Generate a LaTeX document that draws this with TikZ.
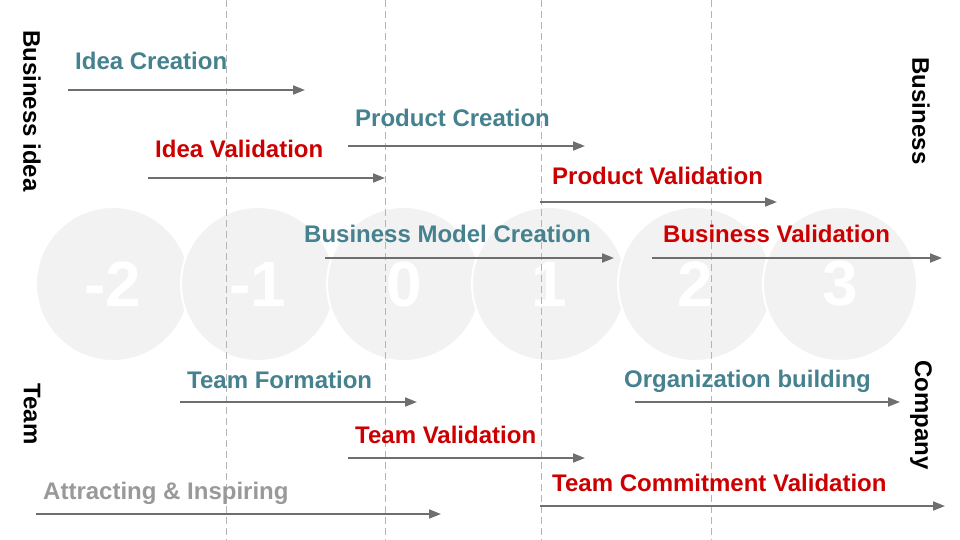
\documentclass[tikz,border=0pt]{standalone}
\usepackage{fontspec}
\setmainfont{Liberation Sans}
\usetikzlibrary{arrows.meta}
\definecolor{teal}{HTML}{45818E}
\definecolor{dred}{HTML}{CC0000}
\definecolor{ltxt}{HTML}{999999}
\definecolor{arr}{HTML}{6E6E6E}
\definecolor{circ}{HTML}{F2F2F2}
\definecolor{dash}{HTML}{B4B4B4}
\tikzset{
  phase/.style={circle, fill=circ, draw=white, line width=2pt, minimum size=154pt, inner sep=0pt,
    text=white, font=\fontsize{64}{70}\selectfont\bfseries},
  grid/.style={draw=dash, line width=0.9pt, dash pattern=on 7pt off 4pt},
  flow/.style={draw=arr, line width=1.8pt, -{Triangle[length=12pt,width=9pt]}},
  lbl/.style={anchor=base west, inner sep=0pt, font=\fontsize{24}{28}\selectfont\bfseries},
  side/.style={rotate=-90, inner sep=0pt, font=\fontsize{24}{28}\selectfont\bfseries, text=black},
}
\begin{document}
\begin{tikzpicture}[x=1pt,y=-1pt]
\useasboundingbox (0,0) rectangle (960,540);
% phases
\node[phase] (pm2) at (113,284) {-2};
\node[phase] (pm1) at (258,284) {-1};
\node[phase] (p0) at (404,284) {0};
\node[phase] (p1) at (549,284) {1};
\node[phase] (p2) at (695,284) {2};
\node[phase] (p3) at (840,284) {3};
% dashed grid
\foreach \x/\n in {226/a,385/b,541/c,711/d}{
  \coordinate (g\n t) at (\x,0);
  \coordinate (g\n b) at (\x,540);
  \draw[grid] (g\n t) -- (g\n b);
}
% side labels
\node[side] (bi) at (32,111) {Business idea};
\node[side] (bu) at (921,111) {Business};
\node[side] (tm) at (32,414) {Team};
\node[side] (co) at (921,415) {Company};
% flows
\foreach \n/\xa/\xb/\y/\tx/\ty/\col/\txt in {
  ic/68/305/90/75/70/teal/Idea Creation,
  pc/348/585/146/355/127/teal/Product Creation,
  iv/148/385/178/155/158/dred/Idea Validation,
  pv/540/777/202/552/185/dred/Product Validation,
  bmc/325/614/258/304/242/teal/Business Model Creation,
  bv/652/942/258/663/242/dred/Business Validation,
  tf/180/417/402/187/388/teal/Team Formation,
  ob/635/900/402/624/387/teal/Organization building,
  tv/348/585/458/355/443/dred/Team Validation,
  ai/36/441/514/43/499/ltxt/Attracting \& Inspiring,
  tcv/540/945/506/552/491/dred/Team Commitment Validation}{
  \coordinate (\n s) at (\xa,\y);
  \coordinate (\n e) at (\xb,\y);
  \draw[flow] (\n s) -- (\n e);
  \node[lbl, text=\col] (\n) at (\tx,\ty) {\txt};
}
\end{tikzpicture}
\end{document}
